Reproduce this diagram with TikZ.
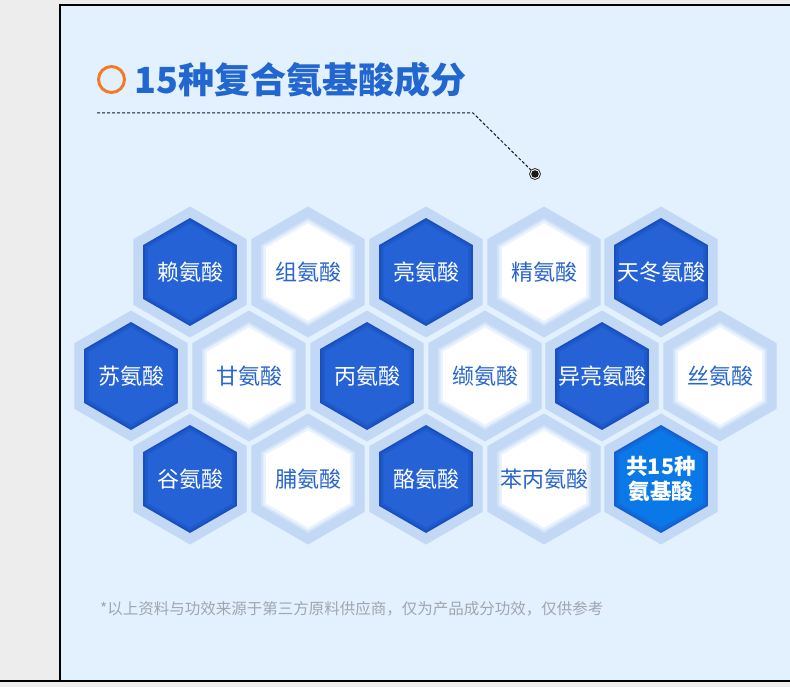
\documentclass[tikz,border=0pt]{standalone}
\usepackage{fontspec}
\newfontfamily\cjk{Noto Sans CJK SC}
\definecolor{pagegray}{HTML}{EDEDED}
\definecolor{panelc}{HTML}{E3F0FE}
\definecolor{titlec}{HTML}{2266D0}
\definecolor{orangec}{HTML}{F47A2A}
\definecolor{ringc}{HTML}{C3D8F5}
\definecolor{darkedge}{HTML}{1A4FBE}
\definecolor{darkmid}{HTML}{1F5ACD}
\definecolor{darkcore}{HTML}{2462D6}
\definecolor{lightedge}{HTML}{D3E3F9}
\definecolor{lightmid}{HTML}{EAF2FD}
\definecolor{lightcore}{HTML}{FFFFFF}
\definecolor{brightedge}{HTML}{1560D0}
\definecolor{brightmid}{HTML}{0F6CDD}
\definecolor{brightcore}{HTML}{0B78E8}
\definecolor{lighttext}{HTML}{2A66CC}
\definecolor{notec}{HTML}{A0A6AE}
\newcommand\hexfill[2]{\fill[#1] (90:#2)--(150:#2)--(210:#2)--(270:#2)--(330:#2)--(30:#2)--cycle;}
\newcommand\aminohex[5]{%
  \begin{scope}[shift={(#2,#3)}]
    \hexfill{ringc}{65.5}
    \hexfill{#4edge}{54}
    \hexfill{#4mid}{51.5}
    \hexfill{#4core}{48.5}
  \end{scope}
  \node[#4txt] (#1) at (#2,#3) {#5};
}
\tikzset{
  hexbase/.style={inner sep=0, align=center, font=\cjk\fontsize{22}{26}\selectfont},
  darktxt/.style={hexbase, text=white},
  lighttxt/.style={hexbase, text=lighttext},
  brighttxt/.style={hexbase, text=white, font=\cjk\bfseries\fontsize{21.5}{25}\selectfont},
  border/.style={line width=2pt, black},
  leader/.style={line width=1pt, black!90, dash pattern=on 3pt off 2pt},
}
\begin{document}
\begin{tikzpicture}[x=1pt,y=-1pt]
\useasboundingbox (0,0) rectangle (790,687);
\fill[pagegray] (0,0) rectangle (790,687);
\fill[panelc] (60,5) rectangle (790,681);
\draw[border] (60,4) -- (60,681);
\draw[border] (59,5) -- (790,5);
\draw[border] (0,681) -- (790,681);

% title
\node[circle, draw=orangec, line width=3pt, minimum size=26pt, inner sep=0] (bullet) at (111.5,79.5) {};
\node[anchor=west, inner sep=0, text=titlec, font=\cjk\bfseries\fontsize{36}{40}\selectfont] (title) at (134,80) {15种复合氨基酸成分};

% leader line
\coordinate (d0) at (97,113);
\coordinate (d1) at (473,113);
\node[circle, fill=white, draw=black!85, line width=0.8pt, minimum size=11pt, inner sep=0] (dot) at (535,174) {};
\fill[black!90] (dot.center) circle (3.8);
\draw[leader] (d0) -- (d1) -- (dot);

% hexagons
\aminohex{h11}{190}{272}{dark}{赖氨酸}
\aminohex{h12}{308}{272}{light}{组氨酸}
\aminohex{h13}{426}{272}{dark}{亮氨酸}
\aminohex{h14}{544}{272}{light}{精氨酸}
\aminohex{h15}{661}{272}{dark}{天冬氨酸}

\aminohex{h21}{131}{376}{dark}{苏氨酸}
\aminohex{h22}{249}{376}{light}{甘氨酸}
\aminohex{h23}{367}{376}{dark}{丙氨酸}
\aminohex{h24}{485}{376}{light}{缬氨酸}
\aminohex{h25}{602}{376}{dark}{异亮氨酸}
\aminohex{h26}{720}{376}{light}{丝氨酸}

\aminohex{h31}{190}{479}{dark}{谷氨酸}
\aminohex{h32}{308}{479}{light}{脯氨酸}
\aminohex{h33}{426}{479}{dark}{酪氨酸}
\aminohex{h34}{544}{479}{light}{苯丙氨酸}
\aminohex{h35}{661}{479}{bright}{共15种\\氨基酸}

% note
\node[anchor=west, inner sep=0, text=notec, font=\cjk\fontsize{15.5}{18}\selectfont] (note) at (100,609) {*以上资料与功效来源于第三方原料供应商，仅为产品成分功效，仅供参考};
\end{tikzpicture}
\end{document}
